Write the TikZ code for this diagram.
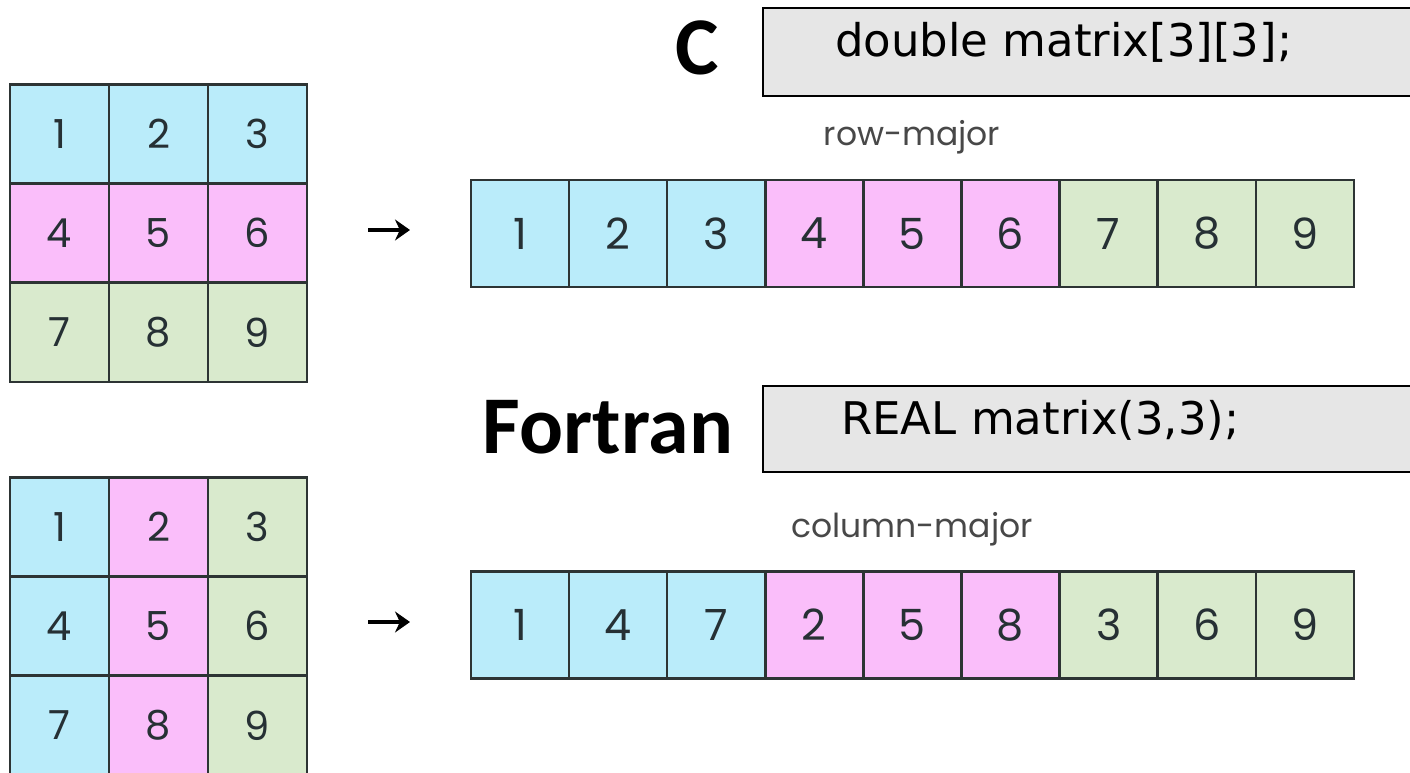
\documentclass[tikz,border=0pt]{standalone}
\usepackage{fontspec}
\setmainfont{Poppins}
\newfontfamily\titlefont{Carlito}
\newfontfamily\codefont{DejaVu Sans}
\usetikzlibrary{arrows.meta}
\definecolor{cblue}{RGB}{186,236,250}
\definecolor{cpink}{RGB}{250,190,250}
\definecolor{cgreen}{RGB}{217,234,205}
\definecolor{cborder}{RGB}{45,52,52}
\definecolor{cnum}{RGB}{38,48,52}
\definecolor{clabel}{RGB}{72,72,72}
\definecolor{boxfill}{RGB}{230,230,230}
\begin{document}
\begin{tikzpicture}[x=1pt,y=-1pt,
  gcell/.style={draw=cborder, line width=2.5pt, minimum width=99pt, minimum height=99pt,
    inner sep=0pt, outer sep=0pt, text=cnum, font=\fontsize{40}{42}\selectfont},
  scell/.style={draw=cborder, line width=2.5pt, minimum width=98.1pt, minimum height=107pt,
    inner sep=0pt, outer sep=0pt, text=cnum, font=\fontsize{43}{45}\selectfont},
  B/.style={fill=cblue}, P/.style={fill=cpink}, G/.style={fill=cgreen},
  lang/.style={font=\titlefont\bfseries\fontsize{82}{84}\selectfont, inner sep=0pt, anchor=base},
  codebox/.style={draw=black, line width=1.3pt, fill=boxfill},
  code/.style={font=\codefont\fontsize{45}{47}\selectfont, inner sep=0pt, anchor=base west},
  major/.style={font=\fontsize{33}{35}\selectfont, text=clabel, inner sep=0pt},
  maparrow/.style={-{Stealth[length=15pt,width=21pt]}, line width=4.2pt, black}
]
\useasboundingbox (0,0) rectangle (1410,773);

% ---- top-left grid (row colouring)
\foreach \r/\cy/\sty in {0/134/B,1/233/P,2/332.5/G}{
  \foreach \c/\cx in {0/59.5,1/158.5,2/257.5}{
    \pgfmathtruncatemacro{\n}{3*\r+\c+1}
    \node[gcell,\sty] (ta\n) at (\cx,\cy) {\n};
  }
}

% ---- bottom-left grid (column colouring)
\foreach \r/\cy in {0/527,1/626,2/725.5}{
  \foreach \c/\cx/\sty in {0/59.5/B,1/158.5/P,2/257.5/G}{
    \pgfmathtruncatemacro{\n}{3*\r+\c+1}
    \node[gcell,\sty] (ba\n) at (\cx,\cy) {\n};
  }
}

% ---- code boxes and language names
\draw[codebox] (763,8) rectangle (1425,96);
\node[lang] (clang) at (697,75) {C};
\node[code] (ccode) at (835,57) {double matrix[3][3];};

\draw[codebox] (763,386) rectangle (1425,472);
\node[lang] (flang) at (608,453) {Fortran};
\node[code] (fcode) at (841,434) {REAL matrix(3,3);};

% ---- labels
\node[major] (rowlbl) at (912,137) {row-major};
\node[major] (collbl) at (912,529) {column-major};

% ---- top strip (row-major)
\foreach \i/\v/\sty in {0/1/B,1/2/B,2/3/B,3/4/P,4/5/P,5/6/P,6/7/G,7/8/G,8/9/G}{
  \node[scell,\sty] (rs\i) at ({471+49.05+98.1*\i},233.5) {\v};
}
% ---- bottom strip (column-major)
\foreach \i/\v/\sty in {0/1/B,1/4/B,2/7/B,3/2/P,4/5/P,5/8/P,6/3/G,7/6/G,8/9/G}{
  \node[scell,\sty] (cs\i) at ({471+49.05+98.1*\i},625) {\v};
}

% ---- arrows
\coordinate (a1s) at (368,230);
\coordinate (a1e) at (410,230);
\coordinate (a2s) at (368,622);
\coordinate (a2e) at (410,622);
\draw[maparrow] (a1s) -- (a1e);
\draw[maparrow] (a2s) -- (a2e);
\end{tikzpicture}
\end{document}
